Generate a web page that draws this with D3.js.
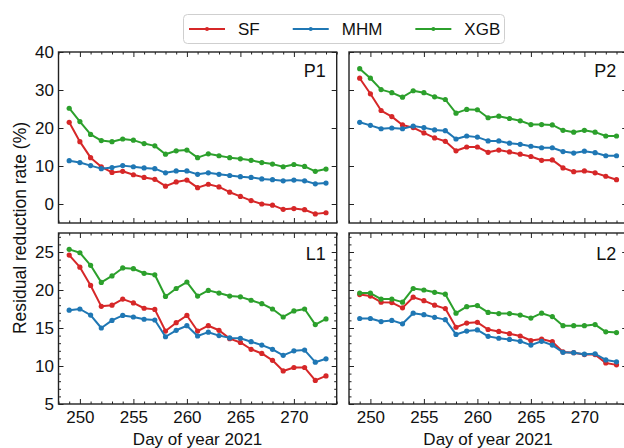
<!DOCTYPE html>
<html>
<head>
<meta charset="utf-8">
<script src="https://cdn.jsdelivr.net/npm/d3@7"></script>
<style>
  body { margin: 0; background: #fff; }
  svg { font-family: "Liberation Sans", Arial, sans-serif; }
</style>
</head>
<body>
<svg id="chart" width="624" height="448"></svg>
<script>
// data
const days = [249, 250, 251, 252, 253, 254, 255, 256, 257, 258, 259, 260, 261,
              262, 263, 264, 265, 266, 267, 268, 269, 270, 271, 272, 273];

const p1SF  = [21.5, 16.4, 12.2, 9.8, 8.3, 8.6, 7.7, 7.0, 6.5, 4.7, 5.8, 6.3, 4.3,
               5.2, 4.5, 3.1, 2.0, 0.9, 0.0, -0.3, -1.4, -1.2, -1.5, -2.6, -2.3];
const p1MHM = [11.4, 10.9, 10.1, 9.3, 9.6, 10.1, 9.8, 9.5, 9.3, 8.2, 8.7, 8.7, 7.8,
               8.2, 7.8, 7.5, 7.2, 7.0, 6.6, 6.4, 6.1, 6.3, 6.1, 5.3, 5.5];
const p1XGB = [25.2, 21.7, 18.3, 16.7, 16.4, 17.1, 16.8, 15.9, 15.3, 13.1, 14.0, 14.2, 12.2,
               13.2, 12.7, 12.2, 11.9, 11.5, 10.9, 10.5, 9.8, 10.4, 9.9, 8.6, 9.2];

const p2SF  = [33.1, 29.0, 24.6, 23.0, 20.8, 20.1, 18.7, 17.4, 16.5, 14.0, 15.0, 15.0, 13.6,
               14.2, 13.7, 13.1, 12.5, 11.5, 11.6, 9.5, 8.5, 8.7, 8.2, 7.3, 6.4];
const p2MHM = [21.5, 20.7, 19.8, 20.0, 19.8, 20.5, 20.1, 19.5, 19.3, 17.1, 17.9, 17.6, 16.6,
               16.6, 16.0, 15.7, 15.2, 14.8, 14.8, 13.8, 13.4, 13.9, 13.5, 12.7, 12.7];
const p2XGB = [35.6, 33.1, 30.1, 29.3, 28.1, 29.8, 29.3, 28.2, 27.5, 23.9, 24.9, 24.8, 22.7,
               23.1, 22.5, 21.9, 20.9, 20.9, 20.8, 19.4, 18.9, 19.4, 18.9, 17.9, 17.9];

const l1SF  = [24.6, 23.0, 20.6, 17.85, 18.0, 18.8, 18.3, 17.6, 17.45, 14.6, 15.7, 16.65, 14.6,
               15.3, 14.7, 13.6, 13.1, 12.2, 11.65, 10.75, 9.35, 9.8, 9.8, 8.1, 8.7];
const l1MHM = [17.35, 17.5, 16.7, 15.0, 16.0, 16.65, 16.45, 16.15, 16.05, 13.85, 14.7, 15.3, 13.95,
               14.45, 14.0, 13.7, 13.65, 13.2, 12.75, 12.2, 11.4, 12.0, 12.1, 10.5, 10.95];
const l1XGB = [25.35, 24.9, 23.25, 21.0, 21.85, 22.9, 22.8, 22.2, 22.0, 19.15, 20.2, 21.05, 19.2,
               19.95, 19.6, 19.2, 19.1, 18.65, 18.2, 17.5, 16.45, 17.25, 17.5, 15.45, 16.2];

const l2SF  = [19.4, 19.2, 18.4, 18.35, 17.65, 19.05, 18.6, 18.0, 17.55, 15.1, 15.65, 15.75, 14.8,
               14.55, 14.25, 13.95, 13.35, 13.55, 13.2, 11.85, 11.75, 11.5, 11.5, 10.4, 10.15];
const l2MHM = [16.25, 16.25, 15.85, 16.0, 15.55, 16.95, 16.75, 16.4, 16.1, 14.15, 14.6, 14.75, 13.9,
               13.65, 13.5, 13.25, 12.75, 13.25, 12.75, 11.8, 11.75, 11.55, 11.6, 10.8, 10.55];
const l2XGB = [19.6, 19.6, 18.8, 18.8, 18.4, 20.2, 20.0, 19.7, 19.45, 16.95, 17.8, 17.95, 17.05,
               16.9, 16.9, 16.7, 16.3, 16.95, 16.5, 15.3, 15.3, 15.3, 15.45, 14.5, 14.4];

const seriesNames = ["SF", "MHM", "XGB"];
const xTicks = [250, 255, 260, 265, 270];
const topTicks = [0, 10, 20, 30, 40];
const bottomTicks = [5, 10, 15, 20, 25];

const colors = { SF: "#d62728", MHM: "#1f77b4", XGB: "#2ca02c" };

const panels = [
  { name: "P1", row: 0, col: 0, values: { SF: p1SF, MHM: p1MHM, XGB: p1XGB } },
  { name: "P2", row: 0, col: 1, values: { SF: p2SF, MHM: p2MHM, XGB: p2XGB } },
  { name: "L1", row: 1, col: 0, values: { SF: l1SF, MHM: l1MHM, XGB: l1XGB } },
  { name: "L2", row: 1, col: 1, values: { SF: l2SF, MHM: l2MHM, XGB: l2XGB } }
];

const colX = [58.5, 349];
const rowY = [52, 233];
const pw = 278.2, ph = 171;
const fontSize = 17;

const svg = d3.select("#chart");

const x = d3.scaleLinear().domain([248, 274]).range([0, pw]);
const yScales = [
  d3.scaleLinear().domain([-5, 40]).range([ph, 0]),
  d3.scaleLinear().domain([5, 27.5]).range([ph, 0])
];
const yTickVals = [topTicks, bottomTicks];
const yMinorStep = [2, 1];

const xMinor = d3.range(248, 275, 1).filter(d => d % 5 !== 0);

panels.forEach(p => {
  const y = yScales[p.row];
  const g = svg.append("g")
    .attr("class", "panel")
    .attr("transform", `translate(${colX[p.col]},${rowY[p.row]})`);

  const yDom = y.domain();
  const yMinor = d3.range(Math.ceil(yDom[0]), yDom[1] + 0.01, yMinorStep[p.row])
    .filter(d => !yTickVals[p.row].includes(d) && d % yMinorStep[p.row] === 0);

  const showX = p.row === 1, showY = p.col === 0;

  // major + minor ticks on all four sides, pointing in
  const addAxis = (axisFn, scale, vals, size, transform, labels, pad) => {
    const ax = axisFn(scale).tickValues(vals).tickSizeInner(-size).tickSizeOuter(0)
      .tickPadding(pad || 7);
    if (!labels) ax.tickFormat("");
    const a = g.append("g").attr("transform", transform).call(ax);
    a.select(".domain").remove();
    a.selectAll(".tick line").attr("stroke", "#222").attr("stroke-width", 1);
    a.selectAll(".tick text").attr("font-size", fontSize).attr("fill", "#111")
      .attr("font-family", "Liberation Sans, Arial, sans-serif");
    return a;
  };
  addAxis(d3.axisBottom, x, xTicks, 5, `translate(0,${ph})`, showX, 6.5);
  addAxis(d3.axisBottom, x, xMinor, 2.5, `translate(0,${ph})`, false);
  addAxis(d3.axisTop, x, xTicks, 5, "translate(0,0)", false);
  addAxis(d3.axisTop, x, xMinor, 2.5, "translate(0,0)", false);
  addAxis(d3.axisLeft, y, yTickVals[p.row], 5, "translate(0,0)", showY, 4.5);
  addAxis(d3.axisLeft, y, yMinor, 2.5, "translate(0,0)", false);
  addAxis(d3.axisRight, y, yTickVals[p.row], 5, `translate(${pw},0)`, false);
  addAxis(d3.axisRight, y, yMinor, 2.5, `translate(${pw},0)`, false);

  const line = d3.line().x((d, i) => x(days[i])).y(d => y(d));

  seriesNames.forEach(s => {
    const vals = p.values[s];
    g.append("path")
      .datum(vals)
      .attr("fill", "none")
      .attr("stroke", colors[s])
      .attr("stroke-width", 2)
      .attr("stroke-linejoin", "round")
      .attr("d", line);
    g.selectAll(`.pt-${s}`)
      .data(vals)
      .enter()
      .append("circle")
      .attr("class", `pt-${s}`)
      .attr("cx", (d, i) => x(days[i]))
      .attr("cy", d => y(d))
      .attr("r", 2.6)
      .attr("fill", colors[s]);
  });

  g.append("rect")
    .attr("width", pw).attr("height", ph)
    .attr("fill", "none")
    .attr("stroke", "#222")
    .attr("stroke-width", 1.4);

  g.append("text")
    .attr("x", pw - 11)
    .attr("y", p.row === 0 ? 24.5 : 27)
    .attr("text-anchor", "end")
    .attr("font-size", 18)
    .attr("fill", "#111")
    .text(p.name);

  if (showX) {
    g.append("text")
      .attr("x", pw / 2)
      .attr("y", ph + 41)
      .attr("text-anchor", "middle")
      .attr("font-size", fontSize)
      .attr("fill", "#111")
      .text("Day of year 2021");
  }
});

// y title shared by both rows
svg.append("text")
  .attr("transform", `translate(26,${(rowY[0] + rowY[1] + ph) / 2})rotate(-90)`)
  .attr("text-anchor", "middle")
  .attr("font-size", 17.5)
  .attr("fill", "#111")
  .text("Residual reduction rate (%)");

// legend
const legend = svg.append("g").attr("class", "legend");
legend.append("rect")
  .attr("x", 183.5).attr("y", 14.5)
  .attr("width", 321).attr("height", 29)
  .attr("rx", 4)
  .attr("fill", "#fff")
  .attr("stroke", "#cfcfcf");

let cx = 189;
seriesNames.forEach(s => {
  const item = legend.append("g").attr("transform", `translate(${cx},29)`);
  item.append("line")
    .attr("x1", 0).attr("x2", 36)
    .attr("stroke", colors[s]).attr("stroke-width", 2);
  item.append("circle").attr("cx", 18).attr("r", 2).attr("fill", colors[s]);
  const t = item.append("text")
    .attr("x", 49).attr("y", 6)
    .attr("font-size", fontSize)
    .attr("fill", "#111")
    .text(s);
  cx += 49 + t.node().getComputedTextLength() + 33;
});
</script>
</body>
</html>
